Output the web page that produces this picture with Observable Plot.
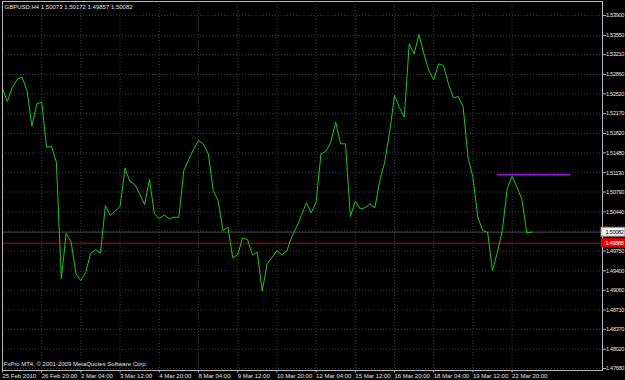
<!DOCTYPE html>
<html>
<head>
<meta charset="utf-8">
<script src="https://cdn.jsdelivr.net/npm/d3@7"></script>
<script src="https://cdn.jsdelivr.net/npm/@observablehq/plot@0.6"></script>
<style>
  html, body { margin: 0; padding: 0; background: #000; }
  svg { display: block; }
  g[aria-label="y-axis tick label"] text,
  g.price-label text { letter-spacing: -0.3px; }
</style>
</head>
<body>
<div id="chart"></div>
<script>
// ---- data ----
const symbol = "GBPUSD,H4";
const ohlc = [1.50073, 1.50172, 1.49857, 1.50082];
const copyright = "FxPro MT4, © 2001-2009 MetaQuotes Software Corp.";

// H4 closing prices, one per bar
const closes = [
  1.52608, 1.52385, 1.52637, 1.52772, 1.52813, 1.52579, 1.51950, 1.52344, 1.52372, 1.51579,
  1.51592, 1.51315, 1.49261, 1.50064, 1.49906, 1.49349, 1.49231, 1.49377, 1.49712, 1.49772,
  1.49712, 1.50552, 1.50376, 1.50452, 1.50540, 1.51209, 1.50975, 1.50922, 1.50758, 1.50570,
  1.51010, 1.50406, 1.50318, 1.50388, 1.50318, 1.50346, 1.50346, 1.51169, 1.51357, 1.51544,
  1.51698, 1.51636, 1.51463, 1.50817, 1.50640, 1.50112, 1.50170, 1.49631, 1.49683, 1.49983,
  1.49953, 1.49683, 1.49729, 1.49042, 1.49525, 1.49631, 1.49759, 1.49683, 1.49747, 1.49994,
  1.50170, 1.50376, 1.50600, 1.50424, 1.50610, 1.51463, 1.51509, 1.51668, 1.52020, 1.51639,
  1.51639, 1.50358, 1.50628, 1.50494, 1.50512, 1.50582, 1.50512, 1.50993, 1.51315, 1.51838,
  1.52490, 1.52274, 1.52108, 1.53401, 1.53225, 1.53565, 1.53225, 1.52931, 1.52767, 1.53049,
  1.53019, 1.52697, 1.52450, 1.52473, 1.52297, 1.51403, 1.51051, 1.50346, 1.50112, 1.50082,
  1.49407, 1.49729, 1.50112, 1.50846, 1.51068, 1.50875, 1.50658, 1.50071, 1.50082
];

const timeTickBars = [0, 8, 16, 24, 32, 40, 48, 56, 64, 72, 80, 88, 96, 104];
const timeLabels = ["25 Feb 2010", "26 Feb 20:00", "2 Mar 04:00", "3 Mar 12:00", "4 Mar 20:00",
  "8 Mar 04:00", "9 Mar 12:00", "10 Mar 20:00", "12 Mar 04:00", "15 Mar 12:00",
  "16 Mar 20:00", "18 Mar 04:00", "19 Mar 12:00", "22 Mar 20:00"];

const priceTicks = [1.47680, 1.48020, 1.48370, 1.48710, 1.49060, 1.49400, 1.49750,
  1.50440, 1.50790, 1.51130, 1.51480, 1.51820, 1.52170, 1.52520, 1.52860,
  1.53210, 1.53550, 1.53900];
const gridPrices = [1.47680, 1.48020, 1.48370, 1.48710, 1.49060, 1.49400, 1.49750, 1.50100,
  1.50440, 1.50790, 1.51130, 1.51480, 1.51820, 1.52170, 1.52520, 1.52860,
  1.53210, 1.53550, 1.53900];

const bidPrice = 1.50082;
const redLevel = 1.49888;
const purpleSegment = [{ price: 1.51093, from: 101, to: 116 }];

// ---- scales ----
const xMax = 122.45;             // visible bar slots
const yDomain = [1.47645, 1.54147];

const textColor = "#e4e4e4";
const font = "'Liberation Sans', Arial, sans-serif";

const chart = Plot.plot({
  width: 625,
  height: 380,
  marginLeft: 2,
  marginRight: 23,
  marginTop: 1,
  marginBottom: 10,
  style: { background: "#000", color: "#c8c8c8", fontFamily: font, fontSize: "6px" },
  x: { domain: [0, xMax], label: null },
  y: { domain: yDomain, label: null },
  marks: [
    Plot.gridY(gridPrices, { stroke: "#3a3a3a", strokeOpacity: 1, strokeDasharray: "1,2" }),
    Plot.gridX(timeTickBars, { stroke: "#3a3a3a", strokeOpacity: 1, strokeDasharray: "1,2" }),
    Plot.ruleY([bidPrice], { stroke: "#444" }),
    Plot.ruleY([redLevel], { stroke: "#c80000" }),
    Plot.line(closes, { x: (d, i) => i, y: d => d, stroke: "#1fc41f", strokeWidth: 1 }),
    Plot.ruleY(purpleSegment, { y: "price", x1: "from", x2: "to", stroke: "#a010e0", strokeWidth: 1.5 }),
    Plot.frame({ stroke: "#b8b8b8" }),
    Plot.axisY(priceTicks, {
      anchor: "right", tickSize: 3, tickPadding: 0.5, textAnchor: "start", fontSize: 5.6,
      tickFormat: d => d.toFixed(5), fill: textColor, stroke: "#b8b8b8"
    }),
    Plot.axisX(timeTickBars, {
      anchor: "bottom", tickSize: 2.5, tickPadding: 1, textAnchor: "start",
      tickFormat: d => timeLabels[timeTickBars.indexOf(d)], fill: textColor, stroke: "#b8b8b8"
    }),
    // price labels on the right axis
    Plot.rect([bidPrice], {
      y1: d => d, y2: d => d, x1: xMax, x2: xMax,
      insetLeft: -1, insetRight: -23, insetTop: -4.5, insetBottom: -4.5,
      fill: "#f4f4f4", stroke: "#888"
    }),
    Plot.text([bidPrice], { y: d => d, x: xMax, dx: 3, textAnchor: "start", fontSize: 5.6,
      className: "price-label", text: d => d.toFixed(5), fill: "#000" }),
    Plot.rect([redLevel], {
      y1: d => d, y2: d => d, x1: xMax, x2: xMax,
      insetLeft: -1, insetRight: -23, insetTop: -4.5, insetBottom: -4.5,
      fill: "#e80000"
    }),
    Plot.text([redLevel], { y: d => d, x: xMax, dx: 3, textAnchor: "start", fontSize: 5.6,
      className: "price-label", text: d => d.toFixed(5), fill: "#fff" }),
    // header and footer text
    Plot.text([symbol + " " + ohlc.map(v => v.toFixed(5)).join(" ")], {
      frameAnchor: "top-left", dx: 2, dy: 6, textAnchor: "start", lineAnchor: "middle", fill: textColor
    }),
    Plot.text([copyright], {
      frameAnchor: "bottom-left", dx: 1, dy: -6, textAnchor: "start", lineAnchor: "middle", fill: textColor
    })
  ]
});

document.getElementById("chart").append(chart);
</script>
</body>
</html>
